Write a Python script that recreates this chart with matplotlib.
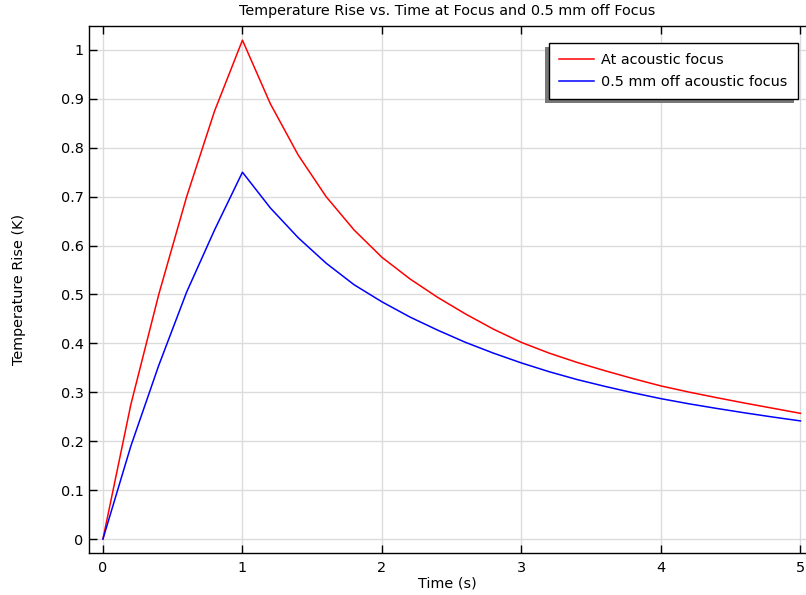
import numpy as np
import matplotlib.pyplot as plt
from matplotlib.patches import Rectangle
from matplotlib.transforms import IdentityTransform

# time samples (s)
time_s = np.round(np.arange(0, 5.01, 0.2), 1)

# temperature rise at the acoustic focus (K)
rise_focus = [0.0, 0.275, 0.50, 0.70, 0.875, 1.02, 0.89, 0.785, 0.70, 0.632,
              0.576, 0.532, 0.494, 0.460, 0.429, 0.402, 0.380, 0.361, 0.344,
              0.328, 0.313, 0.3005, 0.289, 0.278, 0.2675, 0.257]

# temperature rise 0.5 mm off the acoustic focus (K)
rise_off = [0.0, 0.19, 0.355, 0.505, 0.632, 0.75, 0.677, 0.616, 0.564, 0.520,
            0.485, 0.454, 0.427, 0.402, 0.380, 0.360, 0.342, 0.326, 0.312,
            0.299, 0.287, 0.2765, 0.267, 0.258, 0.2495, 0.2415]

labels = ['At acoustic focus', '0.5 mm off acoustic focus']
x_ticks = [0, 1, 2, 3, 4, 5]
y_ticks = np.round(np.arange(0, 1.01, 0.1), 1)
y_ticklabels = ['0'] + [f'{v:g}' for v in y_ticks[1:-1]] + ['1']

FS = 10.4
plt.rcParams['font.family'] = 'DejaVu Sans'
plt.rcParams['font.size'] = FS

W, H = 806, 595
fig = plt.figure(figsize=(W / 100, H / 100), dpi=100)
ax = fig.add_axes([89 / W, (H - 553) / H, (W - 89) / W, 527 / H])

ax.plot(time_s, rise_focus, color='#ff0000', lw=1.1, label=labels[0])
ax.plot(time_s, rise_off, color='#0000ff', lw=1.1, label=labels[1])

ax.set_xlim(-0.1, 5.04)
ax.set_ylim(-0.0286, 1.049)
ax.set_xticks(x_ticks)
ax.set_yticks(y_ticks)
ax.set_yticklabels(y_ticklabels)

ax.grid(True, color='#dcdcdc', lw=1.0)
ax.set_axisbelow(True)
ax.tick_params(direction='in', length=6, width=1.0, top=True, right=False,
               labelsize=FS, colors='black')
ax.tick_params(axis='x', pad=6)
ax.tick_params(axis='y', pad=4)
for s in ax.spines.values():
    s.set_color('black')
    s.set_linewidth(1.0)
ax.spines['right'].set_visible(False)

ax.set_title('Temperature Rise vs. Time at Focus and 0.5 mm off Focus',
             fontsize=FS, pad=8)
ax.set_xlabel('Time (s)', fontsize=FS)
ax.set_ylabel('Temperature Rise (K)', fontsize=FS)
ax.xaxis.set_label_coords(0.5, -0.045)
ax.yaxis.set_label_coords(-0.088, 0.5)

leg = ax.legend(loc='upper right', bbox_to_anchor=(798 / W, (H - 43) / H),
                bbox_transform=fig.transFigure, fancybox=False, shadow=False,
                framealpha=1, edgecolor='black', handlelength=2.4,
                handletextpad=0.5, labelspacing=0.5, borderpad=0.72,
                borderaxespad=0, fontsize=FS)
leg.get_frame().set_linewidth(1.0)
leg.set_zorder(6)

# gray drop shadow offset to the lower left
fig.canvas.draw()
bb = leg.get_window_extent()
shadow = Rectangle((bb.x0 - 4, bb.y0 - 4), bb.width, bb.height,
                   transform=IdentityTransform(), facecolor='#787878',
                   edgecolor='none', zorder=5.5, clip_on=False)
ax.add_patch(shadow)

fig.savefig('out.png', dpi=100)
